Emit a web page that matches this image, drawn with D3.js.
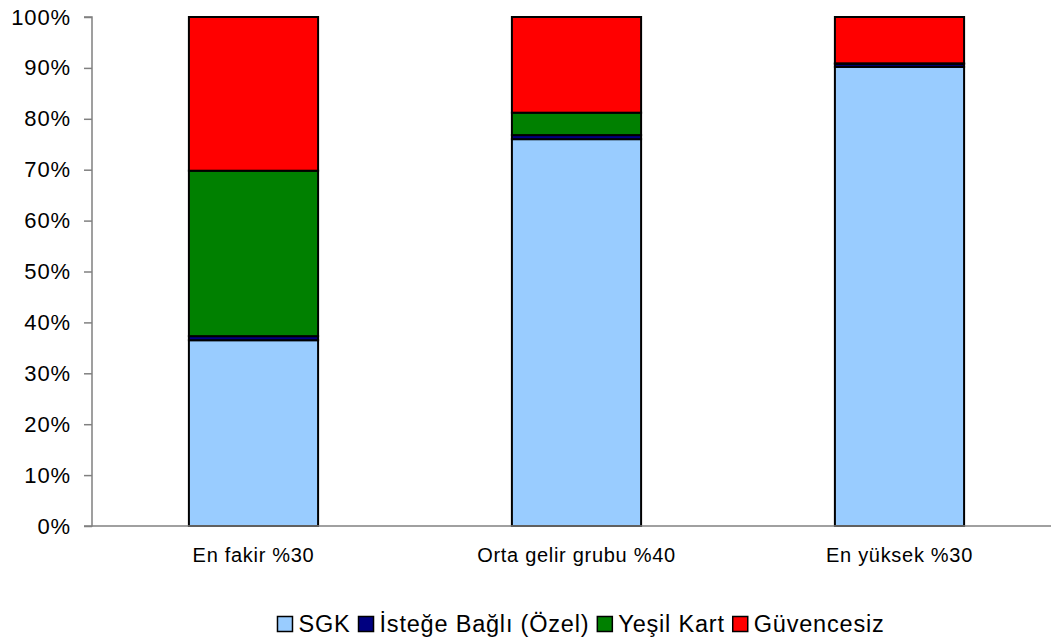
<!DOCTYPE html>
<html><head><meta charset="utf-8">
<script src="https://cdn.jsdelivr.net/npm/d3@7"></script>
<style>body{margin:0;background:#fff}svg{display:block}text{font-family:"Liberation Sans",Arial,sans-serif}</style>
</head><body>
<svg id="c" width="1051" height="638"></svg>
<script>
const categories = ["En fakir %30", "Orta gelir grubu %40", "En yüksek %30"];
const seriesNames = ["SGK", "İsteğe Bağlı (Özel)", "Yeşil Kart", "Güvencesiz"];
const sgk = [36.5, 76.0, 90.2];
const istege = [0.8, 0.8, 0.6];
const yesil = [32.5, 4.4, 0.1];
const guvencesiz = [30.2, 18.8, 9.1];
const colors = ["#99ccff", "#000080", "#008000", "#ff0000"];
const yTicks = [0,10,20,30,40,50,60,70,80,90,100];

const svg = d3.select("#c");
const x0 = 92, x1 = 1061, yTop = 17, yBot = 526;
const x = d3.scaleBand().domain(categories).range([x0, x1]).paddingInner(0.6).paddingOuter(0.3);
const y = d3.scaleLinear().domain([0, 100]).range([yBot, yTop]);

const rows = categories.map((c, i) => ({cat: c, s0: sgk[i], s1: istege[i], s2: yesil[i], s3: guvencesiz[i]}));
const stack = d3.stack().keys(["s0","s1","s2","s3"])(rows);

stack.forEach((layer, li) => {
  svg.append("g").selectAll("rect").data(layer).join("rect")
    .attr("x", d => x(d.data.cat))
    .attr("width", x.bandwidth())
    .attr("y", d => y(d[1]))
    .attr("height", d => y(d[0]) - y(d[1]))
    .attr("fill", colors[li])
    .attr("stroke", "#000").attr("stroke-width", 2);
});

// Y axis
const ya = svg.append("g").attr("transform", `translate(${x0},0)`)
  .call(d3.axisLeft(y).tickValues(yTicks).tickFormat(d => d + "%").tickSize(8).tickPadding(13));
ya.select(".domain").attr("stroke", "#808080").attr("stroke-width", 1.5).attr("d", `M-8,${yTop}H0V${yBot}H-8`);
ya.selectAll(".tick line").attr("stroke", "#808080").attr("stroke-width", 1.5);
ya.selectAll(".tick text").attr("font-size", 22).attr("letter-spacing", 0.9).attr("fill", "#000")
  .attr("font-family", '"Liberation Sans",Arial,sans-serif');

// X axis
const xa = svg.append("g").attr("transform", `translate(0,${yBot})`)
  .call(d3.axisBottom(x).tickSize(0).tickPadding(22));
xa.select(".domain").attr("stroke", "#808080").attr("stroke-width", 1.5).attr("d", `M${x0},0H1051`);
xa.selectAll(".tick text").attr("font-size", 20).attr("letter-spacing", 0.7).attr("fill", "#000")
  .attr("font-family", '"Liberation Sans",Arial,sans-serif');

// Legend
const lg = svg.append("g");
let cx = 0;
seriesNames.forEach((n, i) => {
  const g = lg.append("g").attr("transform", `translate(${cx},0)`);
  g.append("rect").attr("x", 0).attr("y", -7.5).attr("width", 15).attr("height", 15)
    .attr("fill", colors[i]).attr("stroke", "#000").attr("stroke-width", 1.5);
  const t = g.append("text").attr("x", 21).attr("y", 0).attr("dy", "0.35em")
    .attr("font-size", 23.5).attr("letter-spacing", 0.8).attr("fill", "#000").text(n);
  const w = t.node().getComputedTextLength();
  cx += 21 + w + 8;
});
const total = cx - 8;
lg.attr("transform", `translate(${(278 + 884)/2 - total/2},624)`);
</script>
</body></html>
